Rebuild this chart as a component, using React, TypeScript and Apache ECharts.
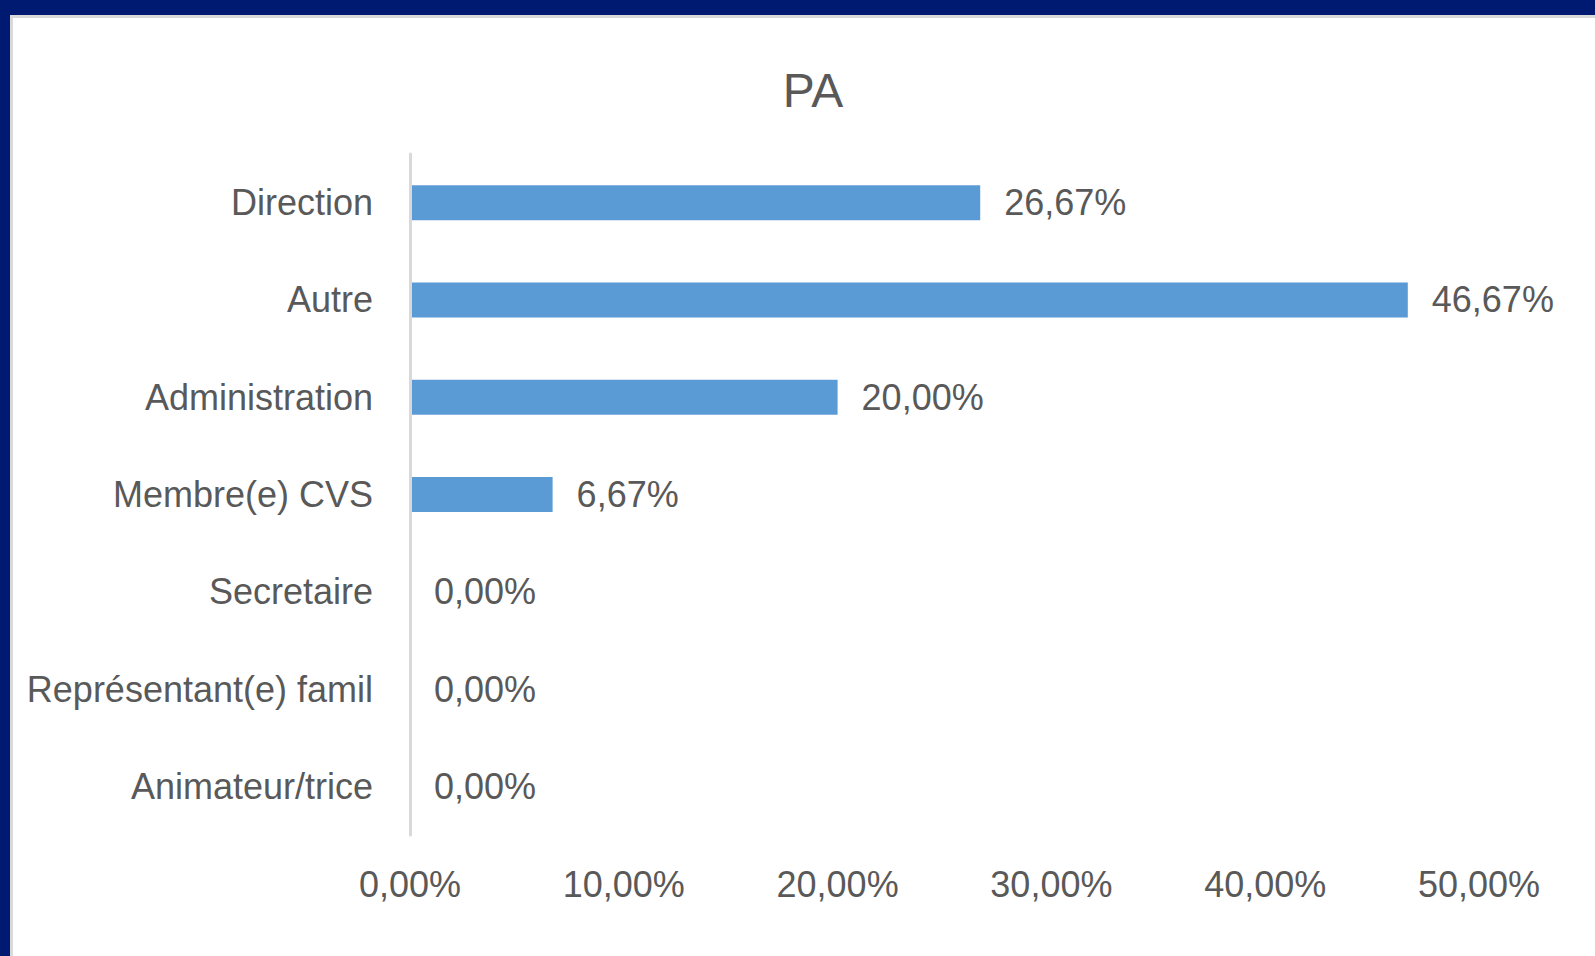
import React, { useEffect, useRef } from "react";
import * as echarts from "echarts";

const titleText = "PA";
const categories = [
  "Direction",
  "Autre",
  "Administration",
  "Membre(e) CVS",
  "Secretaire",
  "Représentant(e) famil",
  "Animateur/trice",
];
const values = [26.67, 46.67, 20.0, 6.67, 0, 0, 0];
const axisMin = 0;
const axisMax = 50;
const axisInterval = 10;

const FONT = "'Liberation Sans', Arial, sans-serif";
const TEXT = "#595959";

const fmt = (v: number) => v.toFixed(2).replace(".", ",") + "%";

export default function App() {
  const ref = useRef<HTMLDivElement>(null);
  useEffect(() => {
    document.body.style.margin = "0";
    if (!ref.current) return;
    const chart = echarts.init(ref.current, undefined, { renderer: "svg" });
    chart.setOption({
      animation: false,
      backgroundColor: "#001A72",
      graphic: [
        {
          type: "rect",
          z: -10,
          silent: true,
          shape: { x: 11.5, y: 16.5, width: 1700, height: 1100 },
          style: { fill: "#ffffff", stroke: "#d9d9d9", lineWidth: 3 },
        },
      ],
      title: {
        text: titleText,
        left: 813,
        top: 66,
        padding: 0,
        textAlign: "center",
        textStyle: {
          fontFamily: FONT,
          fontSize: 48,
          fontWeight: "normal",
          color: TEXT,
        },
      },
      grid: { left: 410, right: 116, top: 154, bottom: 121, containLabel: false },
      xAxis: {
        type: "value",
        min: axisMin,
        max: axisMax,
        interval: axisInterval,
        axisLine: { show: false },
        axisTick: { show: false },
        splitLine: { show: false },
        axisLabel: {
          margin: 31,
          fontFamily: FONT,
          fontSize: 36,
          color: TEXT,
          formatter: (v: number) => fmt(v),
        },
      },
      yAxis: {
        type: "category",
        inverse: true,
        z: 5,
        data: categories,
        axisLine: { show: true, lineStyle: { color: "#d9d9d9", width: 3 } },
        axisTick: { show: false },
        axisLabel: {
          margin: 37,
          fontFamily: FONT,
          fontSize: 36,
          color: TEXT,
        },
      },
      series: [
        {
          type: "bar",
          data: values,
          barWidth: 35,
          itemStyle: { color: "#5B9BD5" },
          label: {
            show: true,
            position: "right",
            distance: 24,
            fontFamily: FONT,
            fontSize: 36,
            color: TEXT,
            formatter: (p: any) => fmt(p.value),
          },
        },
      ],
    });
    return () => chart.dispose();
  }, []);
  return <div ref={ref} style={{ width: 1595, height: 956 }} />;
}
